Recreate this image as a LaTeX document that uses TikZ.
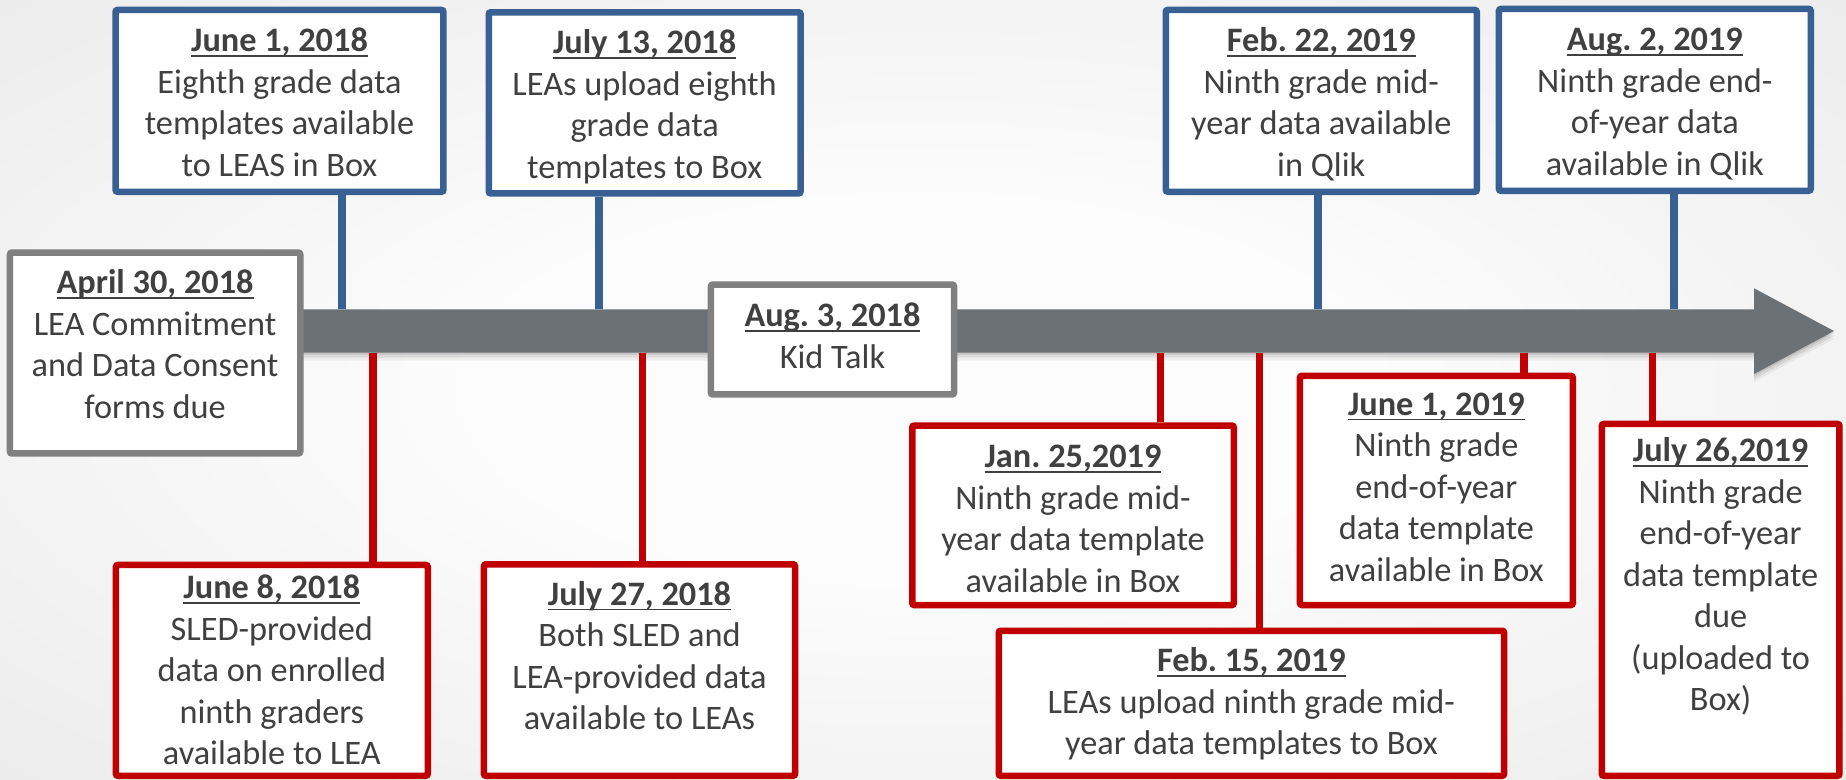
\documentclass[tikz,border=0pt]{standalone}
\usepackage{fontspec}
\setmainfont{Carlito}
\definecolor{bgA}{RGB}{252,252,252}
\definecolor{bgB}{RGB}{226,226,226}
\definecolor{evblue}{RGB}{56,96,146}
\definecolor{evred}{RGB}{192,0,0}
\definecolor{evgray}{RGB}{128,128,128}
\definecolor{barc}{RGB}{108,113,118}
\definecolor{txt}{RGB}{64,64,64}
\pgfdeclareradialshading{bgshade}{\pgfpoint{0bp}{0bp}}{color(0bp)=(bgA); color(12bp)=(bgA); color(50bp)=(bgB)}
\newlength\dulw
\newcommand\dateul[1]{\settowidth\dulw{\textbf{#1}}\rlap{\rule[-5.2pt]{\dulw}{1.9pt}}\textbf{#1}}
\newcommand\evbox[8]{%
  \node[#2, minimum width={#4-#3-6.5}, minimum height={#6-#5-6.5}] (#1) at ({(#3+#4)/2},{(#5+#6)/2}) {};
  \node[evtext] (#1-t) at ({(#3+#4)/2},{#7-30}) {\rule{0pt}{30pt}#8};
}
\tikzset{
  evbase/.style={rectangle, fill=white, line width=6.5pt, rounded corners=2pt, inner sep=0pt},
  bluebox/.style={evbase, draw=evblue},
  redbox/.style={evbase, draw=evred},
  graybox/.style={evbase, draw=evgray},
  evtext/.style={anchor=north, align=center, inner sep=0pt, text=txt, font=\fontsize{34.3}{41.5}\selectfont\frenchspacing},
  bluecon/.style={draw=evblue, line width=8pt},
  redcon/.style={draw=evred, line width=7.5pt},
  barshape/.style={fill=barc},
}
\frenchspacing
\begin{document}
\begin{tikzpicture}[x=1pt,y=-1pt]
\useasboundingbox (0,0) rectangle (1846,779);
\shade[shading=bgshade] (0,0) rectangle (1846,779);
% arrow shadow
\foreach \s/\o in {2/0.10,5/0.08,8/0.05}{
  \fill[black, opacity=\o, shift={(0,\s)}] (250,309.3) -- (1754,309.3) -- (1754,288.3) -- (1834,331) -- (1754,374) -- (1754,352.7) -- (250,352.7) -- cycle;
}
% timeline arrow
\fill[barshape] (250,309.3) -- (1754,309.3) -- (1754,288.3) -- (1834,331) -- (1754,374) -- (1754,352.7) -- (250,352.7) -- cycle;
% connector end points on the bar
\coordinate (bJ1) at (341.7,309.3);
\coordinate (bJ13) at (599,309.3);
\coordinate (bF22) at (1317.8,309.3);
\coordinate (bA2) at (1673.5,309.3);
\coordinate (rJ8) at (373,352.7);
\coordinate (rJ27) at (642.5,352.7);
\coordinate (rJ25) at (1160.3,352.7);
\coordinate (rF15) at (1259.3,352.7);
\coordinate (rJ19) at (1524.2,352.7);
\coordinate (rJ26) at (1652.3,352.7);
% boxes
\evbox{A30}{graybox}{6.7}{303.5}{249.3}{456.7}{293.3}{\dateul{April 30, 2018}\\LEA Commitment\\and Data Consent\\forms due}
\evbox{J1}{bluebox}{112.3}{446.7}{6.7}{195}{51.7}{\dateul{June 1, 2018}\\Eighth grade data\\templates available\\to LEAS in Box}
\evbox{J13}{bluebox}{485.5}{803.8}{9}{196.7}{53.3}{\dateul{July 13, 2018}\\LEAs upload eighth\\grade data\\templates to Box}
\evbox{A3}{graybox}{707.6}{957.3}{281.3}{397.7}{326.7}{\dateul{Aug. 3, 2018}\\Kid Talk}
\evbox{F22}{bluebox}{1162.5}{1480}{6.7}{195}{51.7}{\dateul{Feb. 22, 2019}\\Ninth grade mid-\\year data available\\in Qlik}
\evbox{A2}{bluebox}{1495.7}{1814}{5.7}{194}{50.7}{\dateul{Aug. 2, 2019}\\Ninth grade end-\\of-year data\\available in Qlik}
\evbox{J8}{redbox}{112.7}{431}{561.7}{779}{598.3}{\dateul{June 8, 2018}\\SLED-provided\\data on enrolled\\ninth graders\\available to LEA}
\evbox{J27}{redbox}{480.7}{798.3}{561}{779}{605}{\dateul{July 27, 2018}\\Both SLED and\\LEA-provided data\\available to LEAs}
\evbox{J25}{redbox}{909}{1237}{422.3}{608.3}{467.3}{\dateul{Jan. 25,2019}\\Ninth grade mid-\\year data template\\available in Box}
\evbox{F15}{redbox}{995.5}{1507.3}{627.5}{779}{671.7}{\dateul{Feb. 15, 2019}\\LEAs upload ninth grade mid-\\year data templates to Box}
\evbox{J19}{redbox}{1296.7}{1576}{372.5}{608.3}{415}{\dateul{June 1, 2019}\\Ninth grade\\end-of-year\\data template\\available in Box}
\evbox{J26}{redbox}{1598.5}{1842.7}{420.7}{779}{461.7}{\dateul{July 26,2019}\\Ninth grade\\end-of-year\\data template\\due\\(uploaded to\\Box)}
% connectors
\draw[bluecon] (J1.south -| bJ1) -- (bJ1);
\draw[bluecon] (J13.south -| bJ13) -- (bJ13);
\draw[bluecon] (F22.south -| bF22) -- (bF22);
\draw[bluecon] (A2.south -| bA2) -- (bA2);
\draw[redcon] (rJ8) -- (rJ8 |- J8.north);
\draw[redcon] (rJ27) -- (rJ27 |- J27.north);
\draw[redcon] (rJ25) -- (rJ25 |- J25.north);
\draw[redcon] (rF15) -- (rF15 |- F15.north);
\draw[redcon] (rJ19) -- (rJ19 |- J19.north);
\draw[redcon] (rJ26) -- (rJ26 |- J26.north);
\end{tikzpicture}
\end{document}
